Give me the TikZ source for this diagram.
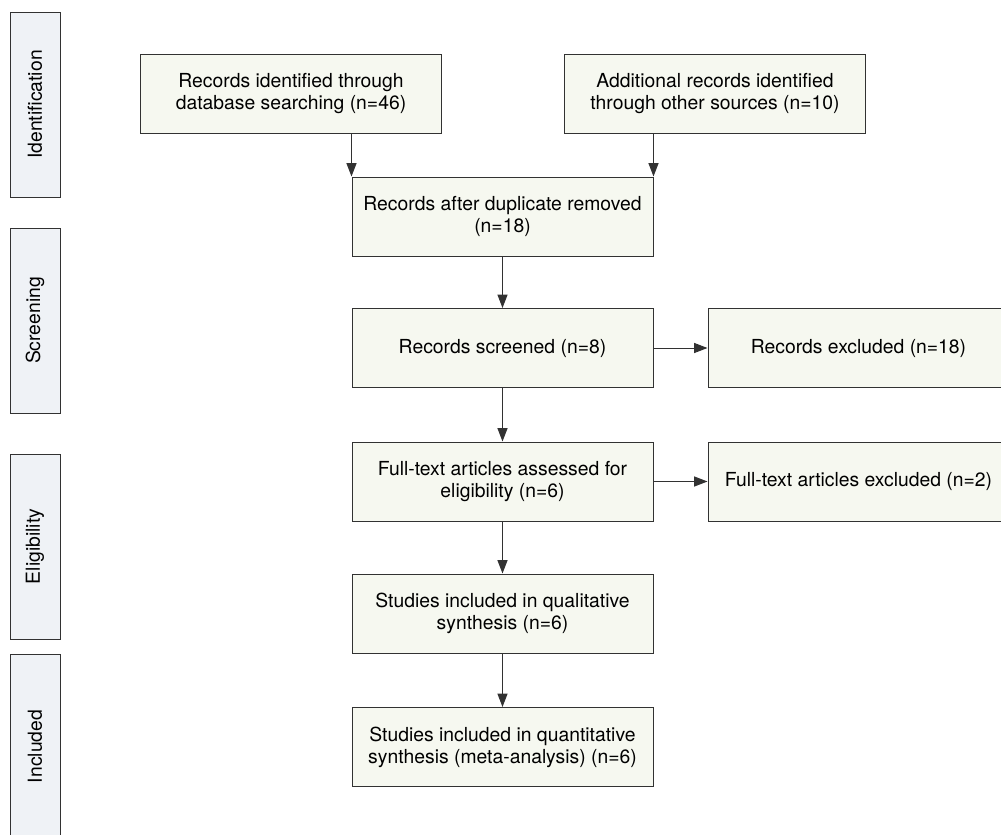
\documentclass[tikz,border=0pt]{standalone}
\usepackage{fontspec}
\setmainfont{TeX Gyre Heros}
\usetikzlibrary{arrows.meta}

\definecolor{boxfill}{RGB}{246,248,240}
\definecolor{phasefill}{RGB}{239,242,246}
\definecolor{edgegray}{RGB}{50,50,50}

\tikzset{
  stage/.style={draw=edgegray, fill=boxfill, line width=0.75pt,
    minimum width=225.75pt, minimum height=59.25pt, align=center,
    inner sep=0pt, font=\fontsize{14.5}{16.5}\selectfont},
  phase/.style={draw=edgegray, fill=phasefill, line width=0.75pt, rotate=90,
    minimum width=138.75pt, minimum height=37.5pt, inner sep=0pt,
    font=\fontsize{14.5}{16.5}\selectfont},
  flow/.style={draw=edgegray, line width=0.75pt,
    -{Triangle[length=10pt,width=7.5pt]}}
}

\begin{document}
\begin{tikzpicture}[x=0.75pt,y=-0.75pt]
        \useasboundingbox (0,0) rectangle (1001,835);
        \clip (0,0) rectangle (1001,835);

        % phase labels on the left
        \node[phase] (ident) at (35,104.5) {Identification};
        \node[phase] (screen) at (35,320.5) {Screening};
        \node[phase] (elig) at (35,546.5) {Eligibility};
        \node[phase] (incl) at (35,746.5) {Included};

        % flow boxes
        \node[stage] (dbsearch) at (291,93.5) {Records identified through\\database searching (n=46)};
        \node[stage] (othersrc) at (715,93.5) {Additional records identified\\through other sources (n=10)};
        \node[stage] (dedup) at (502.5,216.5) {Records after duplicate removed\\(n=18)};
        \node[stage] (screened) at (502.5,348) {Records screened (n=8)};
        \node[stage] (excluded) at (858.5,348) {Records excluded (n=18)};
        \node[stage] (fulltext) at (502.5,481.5) {Full-text articles assessed for\\eligibility (n=6)};
        \node[stage] (ftexcl) at (858.5,481.5) {Full-text articles excluded (n=2)};
        \node[stage] (qual) at (502.5,613.5) {Studies included in qualitative\\synthesis (n=6)};
        \node[stage] (quant) at (502.5,747) {Studies included in quantitative\\synthesis (meta-analysis) (n=6)};

        % connectors
        \draw[flow] (dbsearch.south -| dedup.west) -- (dedup.north west);
        \draw[flow] (othersrc.south -| dedup.east) -- (dedup.north east);
        \draw[flow] (dedup) -- (screened);
        \draw[flow] (screened) -- (excluded);
        \draw[flow] (screened) -- (fulltext);
        \draw[flow] (fulltext) -- (ftexcl);
        \draw[flow] (fulltext) -- (qual);
        \draw[flow] (qual) -- (quant);
    \end{tikzpicture}
\end{document}
